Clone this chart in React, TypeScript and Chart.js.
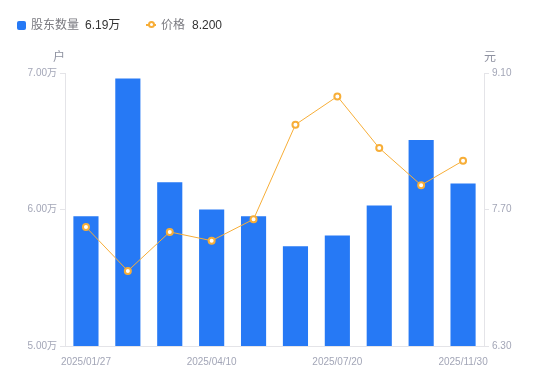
import React, { useEffect, useRef } from 'react';
import { Chart, registerables } from 'chart.js';

Chart.register(...registerables);

const dates = [
  '2025/01/27', '2025/02/28', '2025/03/20', '2025/04/10', '2025/05/20',
  '2025/06/30', '2025/07/20', '2025/08/31', '2025/09/30', '2025/11/30',
];
const holders = [5.95, 6.96, 6.2, 6.0, 5.95, 5.73, 5.81, 6.03, 6.51, 6.19];
const prices = [7.52, 7.07, 7.47, 7.38, 7.6, 8.57, 8.86, 8.33, 7.95, 8.2];
const holderTicks = [5, 6, 7];
const priceTicks = [6.3, 7.7, 9.1];
const holderName = '股东数量';
const priceName = '价格';
const holderUnit = '户';
const priceUnit = '元';

const BLUE = '#2679F5';
const ORANGE = '#F7AE38';
const TICK = '#A3A6B7';
const AXIS = '#E4E4E8';
const FONT = '"Liberation Sans", Arial, "Noto Sans CJK SC", sans-serif';

export default function App() {
  const ref = useRef<HTMLCanvasElement>(null);

  useEffect(() => {
    const chart = new Chart(ref.current!, {
      data: {
        labels: dates,
        datasets: [
          {
            type: 'line',
            label: priceName,
            data: prices,
            yAxisID: 'y1',
            borderColor: ORANGE,
            borderWidth: 1,
            pointRadius: 3,
            pointBorderWidth: 2,
            pointBackgroundColor: '#ffffff',
            pointBorderColor: ORANGE,
            tension: 0,
            order: 0,
          } as any,
          {
            type: 'bar',
            label: holderName,
            data: holders,
            yAxisID: 'y',
            backgroundColor: BLUE,
            barPercentage: 0.6,
            categoryPercentage: 1,
            order: 1,
          } as any,
        ],
      },
      options: {
        animation: false,
        responsive: false,
        layout: { padding: { top: 73, left: 0, right: 0, bottom: 0 } },
        plugins: { legend: { display: false }, tooltip: { enabled: false } },
        scales: {
          x: {
            grid: { display: false, drawTicks: false },
            border: { color: AXIS },
            ticks: {
              autoSkip: false,
              maxRotation: 0,
              padding: 10,
              color: TICK,
              font: { size: 10, family: FONT },
              callback: (_v: any, i: number) => (i % 3 === 0 ? dates[i] : ''),
            },
            afterFit: (s: any) => { s.height = 35; },
          },
          y: {
            position: 'left',
            min: holderTicks[0],
            max: holderTicks[holderTicks.length - 1],
            afterBuildTicks: (s: any) => { s.ticks = holderTicks.map((v) => ({ value: v })); },
            grid: { drawOnChartArea: false, color: AXIS, tickLength: 5 },
            border: { color: AXIS },
            ticks: {
              color: TICK,
              padding: 3,
              font: { size: 10, family: FONT },
              callback: (v: any) => Number(v).toFixed(2) + '万',
            },
            afterFit: (s: any) => { s.width = 65; },
          },
          y1: {
            position: 'right',
            min: priceTicks[0],
            max: priceTicks[priceTicks.length - 1],
            afterBuildTicks: (s: any) => { s.ticks = priceTicks.map((v) => ({ value: v })); },
            grid: { drawOnChartArea: false, color: AXIS, tickLength: 5 },
            border: { color: AXIS },
            ticks: {
              color: TICK,
              padding: 3,
              font: { size: 10, family: FONT },
              callback: (v: any) => Number(v).toFixed(2),
            },
            afterFit: (s: any) => { s.width = 66; },
          },
        },
      } as any,
    });
    return () => chart.destroy();
  }, []);

  const lastHolder = holders[holders.length - 1].toFixed(2) + '万';
  const lastPrice = prices[prices.length - 1].toFixed(3);
  const txt: React.CSSProperties = {
    position: 'absolute',
    top: 17,
    fontSize: 12,
    lineHeight: '16px',
    fontFamily: FONT,
    whiteSpace: 'nowrap',
  };

  return (
    <div style={{ position: 'fixed', left: 0, top: 0, width: 550, height: 381, background: '#fff' }}>
      <canvas ref={ref} width={550} height={381} style={{ position: 'absolute', left: 0, top: 0 }} />
      <div style={{ position: 'absolute', left: 17, top: 21, width: 9, height: 9, borderRadius: 2, background: BLUE }} />
      <span style={{ ...txt, left: 31, color: '#7A7A80' }}>{holderName}</span>
      <span style={{ ...txt, left: 85, color: '#333' }}>{lastHolder}</span>
      <div style={{ position: 'absolute', left: 146, top: 24, width: 10, height: 1.5, background: ORANGE }} />
      <div style={{ position: 'absolute', left: 147.5, top: 21, width: 3, height: 3, borderRadius: '50%', border: `2px solid ${ORANGE}`, background: '#fff' }} />
      <span style={{ ...txt, left: 161, color: '#7A7A80' }}>{priceName}</span>
      <span style={{ ...txt, left: 192, color: '#333' }}>{lastPrice}</span>
      <span style={{ ...txt, top: 49, left: 53, color: '#8E91A0' }}>{holderUnit}</span>
      <span style={{ ...txt, top: 49, left: 484, color: '#8E91A0' }}>{priceUnit}</span>
    </div>
  );
}
